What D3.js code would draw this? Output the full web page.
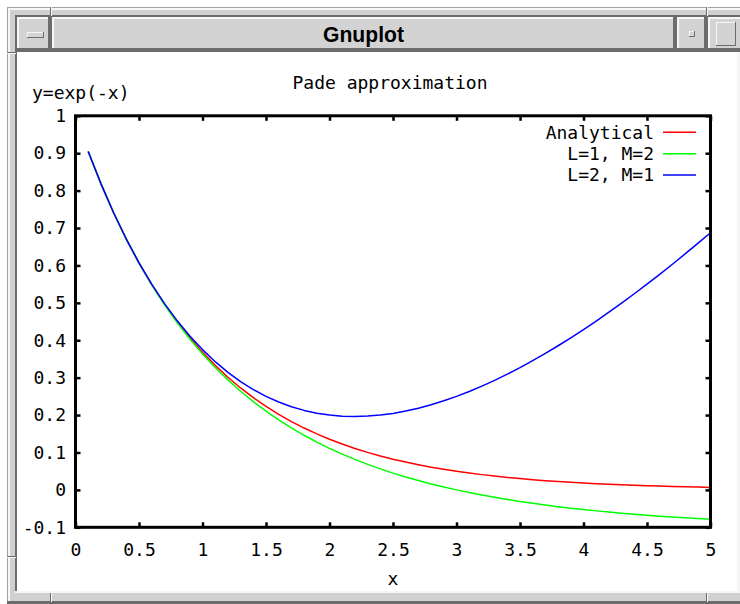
<!DOCTYPE html>
<html>
<head>
<meta charset="utf-8">
<title>Gnuplot</title>
<script src="https://cdn.jsdelivr.net/npm/d3@7"></script>
<style>
  html, body { margin: 0; padding: 0; background: #ffffff; }
  svg { display: block; }
  .mono { font-family: "DejaVu Sans Mono", "Liberation Mono", monospace; font-size: 18px; fill: #000; }
</style>
</head>
<body>
<svg id="win" width="740" height="604"></svg>
<script>
// Sample abscissae
const xs = [0.1, 0.2, 0.3, 0.4, 0.5, 0.6, 0.7, 0.8, 0.9, 1.0,
            1.1, 1.2, 1.3, 1.4, 1.5, 1.6, 1.7, 1.8, 1.9, 2.0,
            2.1, 2.2, 2.3, 2.4, 2.5, 2.6, 2.7, 2.8, 2.9, 3.0,
            3.1, 3.2, 3.3, 3.4, 3.5, 3.6, 3.7, 3.8, 3.9, 4.0,
            4.1, 4.2, 4.3, 4.4, 4.5, 4.6, 4.7, 4.8, 4.9, 5.0];

// y = exp(-x)
const analytical = [0.9048, 0.8187, 0.7408, 0.6703, 0.6065, 0.5488, 0.4966, 0.4493, 0.4066, 0.3679,
                    0.3329, 0.3012, 0.2725, 0.2466, 0.2231, 0.2019, 0.1827, 0.1653, 0.1496, 0.1353,
                    0.1225, 0.1108, 0.1003, 0.0907, 0.0821, 0.0743, 0.0672, 0.0608, 0.0550, 0.0498,
                    0.0450, 0.0408, 0.0369, 0.0334, 0.0302, 0.0273, 0.0247, 0.0224, 0.0202, 0.0183,
                    0.0166, 0.0150, 0.0136, 0.0123, 0.0111, 0.0101, 0.0091, 0.0082, 0.0074, 0.0067];

// Pade approximant, L=1, M=2
const padeL1M2 = [0.9048, 0.8187, 0.7407, 0.6701, 0.6061, 0.5479, 0.4952, 0.4472, 0.4035, 0.3636,
                  0.3273, 0.2941, 0.2638, 0.2360, 0.2105, 0.1872, 0.1657, 0.1460, 0.1278, 0.1111,
                  0.0957, 0.0815, 0.0683, 0.0562, 0.0449, 0.0345, 0.0249, 0.0160, 0.0077, 0.0000,
                  -0.0071, -0.0138, -0.0199, -0.0257, -0.0310, -0.0360, -0.0406, -0.0449, -0.0489, -0.0526,
                  -0.0561, -0.0593, -0.0624, -0.0652, -0.0678, -0.0702, -0.0725, -0.0746, -0.0766, -0.0784];

// Pade approximant, L=2, M=1
const padeL2M1 = [0.9048, 0.8188, 0.7409, 0.6706, 0.6071, 0.5500, 0.4986, 0.4526, 0.4115, 0.3750,
                  0.3427, 0.3143, 0.2895, 0.2682, 0.2500, 0.2348, 0.2223, 0.2125, 0.2051, 0.2000,
                  0.1971, 0.1962, 0.1972, 0.2000, 0.2045, 0.2107, 0.2184, 0.2276, 0.2381, 0.2500,
                  0.2631, 0.2774, 0.2929, 0.3094, 0.3269, 0.3455, 0.3649, 0.3853, 0.4065, 0.4286,
                  0.4514, 0.4750, 0.4993, 0.5243, 0.5500, 0.5763, 0.6032, 0.6308, 0.6589, 0.6875];

const seriesNames = ["Analytical", "L=1, M=2", "L=2, M=1"];
const seriesColors = ["#ff0000", "#00ff00", "#0000ff"];

const xTicks = [0, 0.5, 1, 1.5, 2, 2.5, 3, 3.5, 4, 4.5, 5];
const xTickLabels = ["0", "0.5", "1", "1.5", "2", "2.5", "3", "3.5", "4", "4.5", "5"];
const yTicks = [-0.1, 0, 0.1, 0.2, 0.3, 0.4, 0.5, 0.6, 0.7, 0.8, 0.9, 1];
const yTickLabels = ["-0.1", "0", "0.1", "0.2", "0.3", "0.4", "0.5", "0.6", "0.7", "0.8", "0.9", "1"];

const svg = d3.select("#win");

// ---------- window decoration (Motif style frame) ----------
const FACE = "#d0d0d0", BAR = "#d3d3d3", DARK = "#6c6c6c", MID = "#a2a2a2", LIGHT = "#f6f6f6";
const deco = svg.append("g");

function rect(x, y, w, h, fill) {
  deco.append("rect").attr("x", x).attr("y", y).attr("width", w).attr("height", h).attr("fill", fill);
}
// raised (or sunken) box with a bevel of thickness t
function bevel(x, y, w, h, t, raised, fill) {
  const hi = raised ? LIGHT : DARK, lo = raised ? DARK : LIGHT;
  if (fill) rect(x, y, w, h, fill);
  rect(x, y, w, t, hi);
  rect(x, y, t, h, hi);
  rect(x, y + h - t, w, t, lo);
  rect(x + w - t, y, t, h, lo);
}

// outer frame
rect(7, 7, 740, 597, FACE);
rect(7, 7, 740, 1, MID);
rect(7, 7, 1, 597, MID);
rect(8, 8, 740, 2, LIGHT);
rect(8, 8, 2, 596, LIGHT);
rect(7, 601, 740, 3, DARK);
// inner sunken edge round title bar and client area
rect(15, 15, 730, 2, DARK);
rect(15, 15, 2, 578, DARK);
rect(15, 591, 725, 2, LIGHT);
rect(737, 50, 3, 543, LIGHT);
// corner notches in the frame
[[50, 7, 2, 9], [706, 7, 2, 9], [50, 593, 2, 9], [706, 593, 2, 9]].forEach(([x, y, w, h]) => {
  rect(x, y, 1, h, DARK); rect(x + 1, y, 1, h, LIGHT);
});
[[7, 52, 9, 2], [7, 556, 9, 2]].forEach(([x, y, w, h]) => {
  rect(x, y, w, 1, DARK); rect(x, y + 1, w, 1, LIGHT);
});
// title bar row
rect(17, 17, 723, 35, DARK);
bevel(17, 17, 33, 33, 2, true, BAR);          // menu button
bevel(27, 32, 17, 6, 1, true, BAR);           // menu button glyph
bevel(52, 17, 623, 33, 2, true, BAR);         // title bar
bevel(677, 17, 29, 33, 2, true, BAR);         // minimize button
bevel(689, 31, 6, 6, 1, true, BAR);
bevel(708, 17, 34, 33, 2, true, BAR);         // maximize button
bevel(716, 22, 20, 24, 1, true, BAR);
deco.append("text")
  .attr("x", 363.5).attr("y", 42)
  .attr("text-anchor", "middle")
  .attr("textLength", 81).attr("lengthAdjust", "spacingAndGlyphs")
  .style("font-family", "'Liberation Sans', Arial, sans-serif")
  .style("font-weight", "bold").style("font-size", "22px")
  .text("Gnuplot");
// client area
rect(17, 52, 720, 539, "#ffffff");

// ---------- plot ----------
const x = d3.scaleLinear().domain([0, 5]).range([75.5, 710.5]);
const y = d3.scaleLinear().domain([-0.1, 1]).range([527.3, 115.8]);

const plot = svg.append("g");

const TICK = 5;
function styleAxis(g) {
  g.select(".domain").remove();
  g.selectAll(".tick line").attr("stroke", "#000").attr("stroke-width", 2.5);
  g.selectAll(".tick text").attr("class", "mono").attr("fill", "#000")
    .style("font-family", "'DejaVu Sans Mono', 'Liberation Mono', monospace").style("font-size", "18px");
}

plot.append("g").attr("transform", `translate(0,${y(-0.1)})`)
  .call(d3.axisBottom(x).tickValues(xTicks).tickSize(-TICK).tickPadding(16)
    .tickFormat((d, i) => xTickLabels[i]))
  .call(styleAxis);
plot.append("g").attr("transform", `translate(0,${y(1)})`)
  .call(d3.axisTop(x).tickValues(xTicks).tickSize(-TICK).tickFormat(""))
  .call(styleAxis);
plot.append("g").attr("transform", `translate(${x(0)},0)`)
  .call(d3.axisLeft(y).tickValues(yTicks).tickSize(-TICK).tickPadding(9.5)
    .tickFormat((d, i) => yTickLabels[i]))
  .call(styleAxis);
plot.append("g").attr("transform", `translate(${x(5)},0)`)
  .call(d3.axisRight(y).tickValues(yTicks).tickSize(-TICK).tickFormat(""))
  .call(styleAxis);

// curves
const line = d3.line().x((d, i) => x(xs[i])).y(d => y(d));
[analytical, padeL1M2, padeL2M1].forEach((vals, k) => {
  plot.append("path")
    .attr("d", line(vals))
    .attr("fill", "none")
    .attr("stroke", seriesColors[k])
    .attr("stroke-width", 1.5)
    .attr("stroke-linejoin", "round");
});

// border box
plot.append("rect")
  .attr("x", x(0)).attr("y", y(1))
  .attr("width", x(5) - x(0)).attr("height", y(-0.1) - y(1))
  .attr("fill", "none").attr("stroke", "#000").attr("stroke-width", 3);

// key
const key = plot.append("g");
seriesNames.forEach((name, k) => {
  const ky = 132.3 + k * 21.4;
  key.append("text").attr("class", "mono")
    .attr("x", 654).attr("y", ky).attr("dy", "0.35em")
    .attr("text-anchor", "end").text(name);
  key.append("line")
    .attr("x1", 663).attr("x2", 696).attr("y1", ky).attr("y2", ky)
    .attr("stroke", seriesColors[k]).attr("stroke-width", 1.5);
});

// titles
plot.append("text").attr("class", "mono")
  .attr("x", 390).attr("y", 89).attr("text-anchor", "middle")
  .text("Pade approximation");
plot.append("text").attr("class", "mono")
  .attr("x", 32).attr("y", 99)
  .text("y=exp(-x)");
plot.append("text").attr("class", "mono")
  .attr("x", 393).attr("y", 585).attr("text-anchor", "middle")
  .text("x");
</script>
</body>
</html>
